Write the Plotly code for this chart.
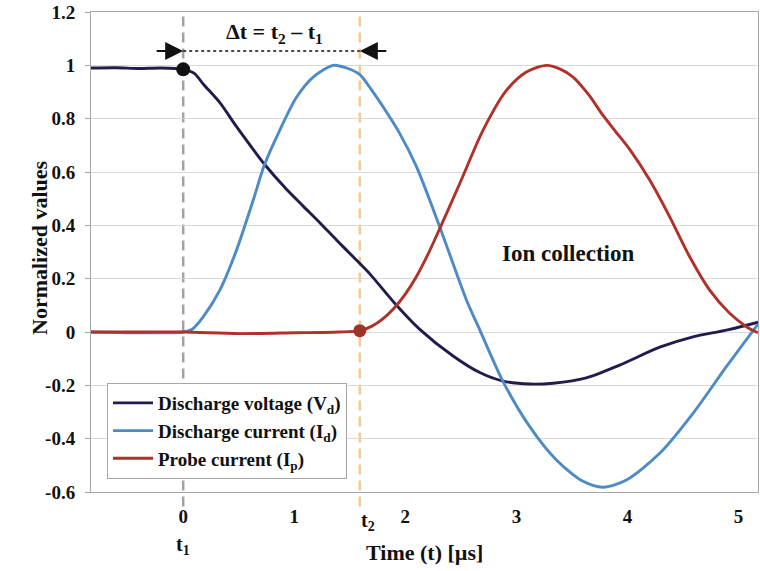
import plotly.graph_objects as go

# ---------------- data ----------------
t_vd = [-0.83, -0.6, -0.4, -0.2, 0.0, 0.1, 0.18, 0.33, 0.48, 0.63, 0.73, 0.93, 1.08, 1.23,
        1.38, 1.53, 1.68, 1.9, 2.13, 2.43, 2.67, 2.88, 3.12, 3.33, 3.63, 3.93, 4.29, 4.59,
        4.89, 5.175]
vd = [0.99, 0.991, 0.988, 0.99, 0.985, 0.97, 0.93, 0.86, 0.77, 0.685, 0.63, 0.535, 0.472, 0.41,
      0.345, 0.282, 0.218, 0.11, 0.01, -0.09, -0.152, -0.184, -0.195, -0.192, -0.172, -0.124,
      -0.057, -0.018, 0.007, 0.037]

t_id = [-0.83, 0.0, 0.08, 0.18, 0.33, 0.48, 0.63, 0.73, 0.87, 1.02, 1.17, 1.35, 1.47, 1.59,
        1.7, 1.83, 1.95, 2.1, 2.31, 2.55, 2.67, 2.88, 3.12, 3.36, 3.6, 3.78, 3.99, 4.29, 4.59,
        4.89, 5.175]
i_d = [0.0, 0.0, 0.01, 0.057, 0.157, 0.307, 0.494, 0.625, 0.757, 0.88, 0.956, 1.0, 0.99, 0.965,
       0.905, 0.825, 0.744, 0.62, 0.394, 0.12, 0.008, -0.186, -0.355, -0.48, -0.56, -0.582,
       -0.555, -0.455, -0.305, -0.13, 0.03]

t_ip = [-0.83, -0.5, 0.0, 0.5, 1.0, 1.4, 1.59, 1.7, 1.8, 1.9, 2.0, 2.1, 2.2, 2.31, 2.49, 2.7,
        2.91, 3.09, 3.27, 3.4, 3.51, 3.65, 3.78, 3.9, 4.02, 4.2, 4.38, 4.56, 4.74, 4.92, 5.07,
        5.175]
i_p = [0.0, 0.0, 0.0, -0.006, -0.003, 0.0, 0.005, 0.022, 0.05, 0.09, 0.142, 0.208, 0.288,
       0.388, 0.557, 0.757, 0.906, 0.975, 1.0, 0.985, 0.956, 0.89, 0.812, 0.748, 0.685, 0.57,
       0.432, 0.282, 0.157, 0.07, 0.02, -0.003]

t1 = 0.0
t2 = 1.59
vd_at_t1 = 0.985
ip_at_t2 = 0.005
dt_level = 1.054

x_ticks = [0, 1, 2, 3, 4, 5]
y_ticks = [-0.6, -0.4, -0.2, 0, 0.2, 0.4, 0.6, 0.8, 1, 1.2]
y_ticktext = ["-0.6", "-0.4", "-0.2", "0", "0.2", "0.4", "0.6", "0.8", "1", "1.2"]

names = ["Discharge voltage (V<sub>d</sub>)", "Discharge current (I<sub>d</sub>)",
         "Probe current (I<sub>p</sub>)"]

# ---------------- styles ----------------
FONT = "Liberation Serif, DejaVu Serif, serif"
C_VD = "#201d4d"
C_ID = "#4d8ac6"
C_IP = "#b0302a"
AXC = "#a6a6a6"
XRANGE = [-0.83, 5.175]
LW = 2.9

fig = go.Figure()
fig.add_trace(go.Scatter(x=t_vd, y=vd, mode="lines", name=names[0], legendgroup="a",
                         line=dict(color=C_VD, width=LW, shape="spline", smoothing=0.8)))
fig.add_trace(go.Scatter(x=t_id, y=i_d, mode="lines", name=names[1], legendgroup="b",
                         line=dict(color=C_ID, width=LW, shape="spline", smoothing=0.8)))
fig.add_trace(go.Scatter(x=t_ip, y=i_p, mode="lines", name=names[2], legendgroup="c",
                         line=dict(color=C_IP, width=LW, shape="spline", smoothing=0.8)))
fig.add_trace(go.Scatter(x=[t1], y=[vd_at_t1], mode="markers", showlegend=False,
                         marker=dict(color="#111111", size=14)))
fig.add_trace(go.Scatter(x=[t2], y=[ip_at_t2], mode="markers", showlegend=False,
                         marker=dict(color="#9e3426", size=13)))

# vertical dashed lines t1 / t2 and horizontal dotted delta line
fig.add_shape(type="line", xref="x", yref="paper", x0=t1, x1=t1, y0=-0.03, y1=1.0,
              line=dict(color="#a3a3a3", width=2.5, dash="10px,6px"), layer="below")
fig.add_shape(type="line", xref="x", yref="paper", x0=t2, x1=t2, y0=-0.03, y1=1.0,
              line=dict(color="#f7c895", width=2.5, dash="10px,6px"), layer="below")
fig.add_shape(type="line", xref="x", yref="y", x0=t1, x1=t2, y0=dt_level, y1=dt_level,
              line=dict(color="#111111", width=1.5, dash="3px,3px"))

ann = []
# arrows
ann.append(dict(x=t1, y=dt_level, xref="x", yref="y", ax=-28, ay=0, text="", showarrow=True,
                arrowhead=2, arrowsize=1.8, arrowwidth=2, arrowcolor="#111111", standoff=0))
ann.append(dict(x=t2, y=dt_level, xref="x", yref="y", ax=28, ay=0, text="", showarrow=True,
                arrowhead=2, arrowsize=1.8, arrowwidth=2, arrowcolor="#111111", standoff=0))
ann.append(dict(x=(t1 + t2) / 2 + 0.03, y=0.99, xref="x", yref="paper",
                text="<b>Δt = t<sub>2</sub> – t<sub>1</sub></b>", showarrow=False,
                font=dict(family=FONT, size=22, color="#111111")))
ann.append(dict(x=3.46, y=0.296, xref="x", yref="y", text="<b>Ion collection</b>",
                showarrow=False, font=dict(family=FONT, size=23, color="#111111")))
ann.append(dict(x=t1, y=-0.142, xref="x", yref="paper", text="<b>t<sub>1</sub></b>",
                showarrow=False, font=dict(family=FONT, size=20, color="#111111")))
ann.append(dict(x=t2 + 0.07, y=-0.092, xref="x", yref="paper", text="<b>t<sub>2</sub></b>",
                showarrow=False, font=dict(family=FONT, size=20, color="#111111")))
ann.append(dict(x=0.5, y=-0.156, xref="paper", yref="paper", text="<b>Time (t) [µs]</b>",
                showarrow=False, font=dict(family=FONT, size=22, color="#111111")))
ann.append(dict(x=-0.1, y=0.51, xref="paper", yref="paper", text="<b>Normalized values</b>",
                textangle=-90, showarrow=False, font=dict(family=FONT, size=22, color="#111111")))

fig.update_layout(
    width=760, height=571,
    margin=dict(l=91, r=2, t=12, b=79),
    paper_bgcolor="white", plot_bgcolor="white",
    font=dict(family=FONT, color="#111111"),
    annotations=ann,
    showlegend=True,
    legend=dict(x=0.024, y=0.227, xanchor="left", yanchor="top",
                bgcolor="white", bordercolor=AXC, borderwidth=1,
                font=dict(family=FONT, size=19, color="#111111", weight="bold"),
                traceorder="grouped", tracegroupgap=0, itemwidth=40),
    xaxis=dict(range=XRANGE, tickvals=x_ticks, ticks="", showgrid=False, zeroline=False,
               showline=True, mirror=True, linecolor=AXC, linewidth=1,
               tickfont=dict(family=FONT, size=19, color="#111111", weight="bold"),
               ticklabelstandoff=7),
    xaxis2=dict(range=XRANGE, overlaying="x", anchor="free", position=1/3, side="bottom",
                tickvals=x_ticks, ticks="outside", ticklen=5, tickcolor=AXC,
                showticklabels=False, showgrid=False, zeroline=False,
                showline=True, linecolor=AXC, linewidth=1.5),
    yaxis=dict(range=[-0.6, 1.2], tickvals=y_ticks, ticktext=y_ticktext,
               showgrid=True, gridcolor="#d9d9d9", gridwidth=1, zeroline=False,
               showline=True, mirror=True, linecolor=AXC, linewidth=1,
               ticks="outside", ticklen=5, tickcolor=AXC,
               tickfont=dict(family=FONT, size=19, color="#111111", weight="bold"),
               ticklabelstandoff=6),
)

fig.write_html("out.html")
